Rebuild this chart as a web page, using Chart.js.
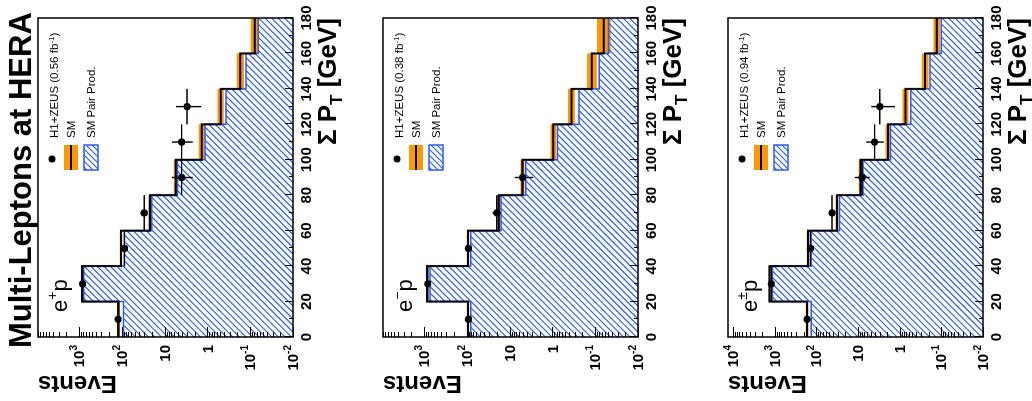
<!DOCTYPE html>
<html>
<head>
<meta charset="utf-8">
<script src="https://cdn.jsdelivr.net/npm/chart.js@4.4.1/dist/chart.umd.min.js"></script>
<style>
  html, body { margin: 0; padding: 0; background: #fff; overflow: hidden; width: 1032px; height: 401px; }
  /* the figure is drawn upright (401 x 1032) and turned a quarter to the left */
  #fig { position: absolute; left: 0; top: 0; width: 401px; height: 1032px; background: #fff;
         transform-origin: 0 0; transform: translate(0, 401px) rotate(-90deg); overflow: hidden; }
  #fig canvas { position: absolute; left: 0; }
</style>
</head>
<body>
<div id="fig">
  <canvas id="c0" width="401" height="345" style="top:0"></canvas>
  <canvas id="c1" width="401" height="345" style="top:345px"></canvas>
  <canvas id="c2" width="401" height="345" style="top:690px"></canvas>
</div>
<script>
// ---- data ----
const binEdges = [0, 20, 40, 60, 80, 100, 120, 140, 160, 180];
const yTickVals = [0.01, 0.1, 1, 10, 100, 1000, 10000];
const yTickExps = ['-2', '-1', '', '', '2', '3', '4'];
const yTickBase = ['10', '10', '1', '10', '10', '10', '10'];

// e+p
const smPos   = [119, 850, 105, 22, 5.5, 1.36, 0.49, 0.17, 0.078];
const pairPos = [91, 780, 87, 20, 5.0, 1.14, 0.37, 0.126, 0.065];
const bandPos = [0.08, 0.06, 0.07, 0.09, 0.12, 0.17, 0.18, 0.22, 0.25];
const dataPos   = [123, 830, 87, 30, 4, 4, 3];
const dataPosLo = [112, 800, 78, 25, 2.2, 2.2, 1.4];
const dataPosHi = [134, 860, 97, 36, 6.7, 6.7, 5.4];

// e-p
const smNeg   = [94, 850, 94, 18, 5.0, 0.95, 0.36, 0.12, 0.063];
const pairNeg = [81, 730, 81, 16, 4.2, 0.76, 0.24, 0.08, 0.049];
const bandNeg = [0.07, 0.06, 0.07, 0.09, 0.12, 0.17, 0.2, 0.3, 0.45];
const dataNeg   = [92, 820, 92, 20, 5];
const dataNegLo = [83, 790, 83, 16, 2.8];
const dataNegHi = [102, 850, 102, 25, 7.6];

// e+-p combined
const smAll   = [167, 1330, 158, 32, 8.7, 1.9, 0.72, 0.245, 0.129];
const pairAll = [132, 1130, 132, 28, 7.6, 1.66, 0.54, 0.186, 0.10];
const bandAll = [0.08, 0.06, 0.07, 0.09, 0.11, 0.15, 0.18, 0.2, 0.2];
const dataAll   = [167, 1210, 139, 42, 8, 4, 3];
const dataAllLo = [155, 1175, 128, 36, 5.2, 2.4, 1.3];
const dataAllHi = [180, 1245, 151, 49, 12, 6.3, 4.8];

const panels = [
  { id: 'c0', sm: smPos, pair: pairPos, band: bandPos, data: dataPos, lo: dataPosLo, hi: dataPosHi,
    yMax: 9100, lumi: '0.56', charge: '+', title: true },
  { id: 'c1', sm: smNeg, pair: pairNeg, band: bandNeg, data: dataNeg, lo: dataNegLo, hi: dataNegHi,
    yMax: 9100, lumi: '0.38', charge: '\u2212', title: false },
  { id: 'c2', sm: smAll, pair: pairAll, band: bandAll, data: dataAll, lo: dataAllLo, hi: dataAllHi,
    yMax: 13200, lumi: '0.94', charge: '\u00B1', title: false }
];

const FONT = '"Liberation Sans", Arial, Helvetica, sans-serif';
const ORANGE = '#ff9900';
const BLUE = '#2a5aff';
Chart.defaults.font.family = FONT;
Chart.defaults.color = '#000';

function hatch(ctx){
  const s = 6, c = document.createElement('canvas');
  c.width = s; c.height = s;
  const g = c.getContext('2d');
  g.strokeStyle = BLUE; g.lineWidth = 1.1;
  g.beginPath();
  g.moveTo(0, s); g.lineTo(s, 0);
  g.moveTo(-1, 1); g.lineTo(1, -1);
  g.moveTo(s - 1, s + 1); g.lineTo(s + 1, s - 1);
  g.stroke();
  return ctx.createPattern(c, 'repeat');
}

// parts: [text, size, dy, weight]
function rich(ctx, parts, x, y, align){
  let w = 0;
  parts.forEach(p => { ctx.font = (p[3] || '') + ' ' + p[1] + 'px ' + FONT; w += ctx.measureText(p[0]).width; });
  let cx = align === 'right' ? x - w : x;
  parts.forEach(p => {
    ctx.font = (p[3] || '') + ' ' + p[1] + 'px ' + FONT;
    ctx.fillText(p[0], cx, y + (p[2] || 0));
    cx += ctx.measureText(p[0]).width;
  });
}

const steps = vals => binEdges.map((e, i) => ({ x: e, y: vals[Math.min(i, vals.length - 1)] }));

function decor(p, pattern){
  return {
    id: 'decor',
    beforeDatasetDraw(chart, args){
      const { ctx, chartArea: a, scales: { x, y } } = chart;
      if (args.index === 2){
        // hatched area under the pair-production histogram
        ctx.save();
        ctx.beginPath();
        ctx.moveTo(x.getPixelForValue(0), a.bottom);
        p.pair.forEach((v, i) => {
          ctx.lineTo(x.getPixelForValue(binEdges[i]), y.getPixelForValue(v));
          ctx.lineTo(x.getPixelForValue(binEdges[i + 1]), y.getPixelForValue(v));
        });
        ctx.lineTo(x.getPixelForValue(180), a.bottom);
        ctx.closePath();
        ctx.clip();
        ctx.strokeStyle = BLUE; ctx.lineWidth = 1.2;
        const H = a.bottom - a.top;
        ctx.beginPath();
        for (let d = -H; d < a.right - a.left + H; d += 6.5){
          ctx.moveTo(a.left + d, a.bottom);
          ctx.lineTo(a.left + d + H, a.top);
        }
        ctx.stroke();
        ctx.restore();
      }
      if (args.index === 0){
        // error bars of the data points
        ctx.save();
        ctx.strokeStyle = '#000'; ctx.lineWidth = 1.4;
        p.data.forEach((v, i) => {
          const cx = x.getPixelForValue((binEdges[i] + binEdges[i + 1]) / 2);
          const cy = y.getPixelForValue(v);
          ctx.beginPath();
          ctx.moveTo(x.getPixelForValue(binEdges[i]), cy);
          ctx.lineTo(x.getPixelForValue(binEdges[i + 1]), cy);
          ctx.moveTo(cx, y.getPixelForValue(p.lo[i]));
          ctx.lineTo(cx, y.getPixelForValue(p.hi[i]));
          ctx.stroke();
        });
        ctx.restore();
      }
    },
    afterDraw(chart){
      const { ctx, chartArea: a, scales: { x, y } } = chart;
      ctx.save();
      // ticks pointing inwards
      ctx.strokeStyle = '#000'; ctx.lineWidth = 1;
      ctx.beginPath();
      for (let k = -2; k <= 4; k++){
        for (let m = 1; m <= 9; m++){
          const v = m * Math.pow(10, k);
          if (v < 0.01 || v > p.yMax) continue;
          const py = Math.round(y.getPixelForValue(v)) + 0.5;
          ctx.moveTo(a.left, py); ctx.lineTo(a.left + (m === 1 ? 10 : 5), py);
        }
      }
      for (let v = 0; v <= 180; v += 10){
        const px = Math.round(x.getPixelForValue(v)) + 0.5;
        ctx.moveTo(px, a.bottom); ctx.lineTo(px, a.bottom - (v % 20 === 0 ? 8 : 4));
      }
      ctx.stroke();
      // frame
      ctx.lineWidth = 1.5;
      ctx.strokeRect(a.left, a.top, a.right - a.left, a.bottom - a.top);

      // y tick labels with raised exponents
      ctx.fillStyle = '#000';
      ctx.textBaseline = 'middle';
      yTickVals.forEach((v, i) => {
        if (v > p.yMax) return;
        const py = y.getPixelForValue(v);
        rich(ctx, [[yTickBase[i], 15, 1, 'bold'], [yTickExps[i], 10, -5, 'bold']], a.left - 8, py, 'right');
      });

      // legend
      const L = a.left, T = a.top;
      ctx.beginPath(); ctx.arc(L + 178, T + 14, 3.5, 0, Math.PI * 2); ctx.fill();
      ctx.fillStyle = ORANGE;
      ctx.fillRect(L + 167, T + 26, 25, 14);
      ctx.strokeStyle = '#000'; ctx.lineWidth = 2;
      ctx.beginPath(); ctx.moveTo(L + 167, T + 33); ctx.lineTo(L + 192, T + 33); ctx.stroke();
      ctx.fillStyle = pattern;
      ctx.fillRect(L + 167, T + 46, 25, 14);
      ctx.strokeStyle = BLUE; ctx.lineWidth = 1.5;
      ctx.strokeRect(L + 167, T + 46, 25, 14);

      ctx.fillStyle = '#000';
      ctx.textBaseline = 'alphabetic';
      rich(ctx, [['H1+ZEUS (' + p.lumi + ' fb', 11.5], ['-1', 8, -4], [')', 11.5]], L + 199, T + 20);
      rich(ctx, [['SM', 11.5]], L + 199, T + 37);
      rich(ctx, [['SM Pair Prod.', 11.5]], L + 199, T + 57);

      // e p label
      rich(ctx, [['e', 22], [p.charge, 14, -10], ['p', 22]], 89, 67);

      // x-axis title
      rich(ctx, [['\u03A3 P', 26, 0, 'bold'], ['T', 17, 6, 'bold'], [' [GeV]', 26, 0, 'bold']], a.right, 336, 'right');

      if (p.title){
        rich(ctx, [['Multi-Leptons at HERA', 31, 0, 'bold']], 53, 31);
      }
      ctx.restore();
    }
  };
}

panels.forEach(p => {
  const ctx = document.getElementById(p.id).getContext('2d');
  const pattern = hatch(ctx);
  new Chart(ctx, {
    type: 'line',
    data: {
      datasets: [
        { label: 'H1+ZEUS', data: p.data.map((v, i) => ({ x: (binEdges[i] + binEdges[i + 1]) / 2, y: v })),
          showLine: false, pointRadius: 3.6, pointBackgroundColor: '#000', pointBorderWidth: 0, order: 0 },
        { label: 'SM', data: steps(p.sm), stepped: true, borderColor: '#000', borderWidth: 2,
          pointRadius: 0, fill: false, order: 1 },
        { label: 'SM Pair Prod.', data: steps(p.pair), stepped: true, borderColor: BLUE, borderWidth: 1.5,
          pointRadius: 0, fill: false, order: 2 },
        { label: 'band hi', data: steps(p.sm.map((v, i) => v * (1 + p.band[i]))), stepped: true,
          borderWidth: 0, borderColor: ORANGE, pointRadius: 0, fill: '+1', backgroundColor: ORANGE, order: 3 },
        { label: 'band lo', data: steps(p.sm.map((v, i) => v / (1 + p.band[i]))), stepped: true,
          borderWidth: 0, borderColor: ORANGE, pointRadius: 0, fill: false, order: 4 }
      ]
    },
    options: {
      responsive: false,
      animation: false,
      events: [],
      layout: { padding: { left: 0, right: 18, top: 38, bottom: 0 } },
      plugins: { legend: { display: false }, tooltip: { enabled: false } },
      scales: {
        x: {
          type: 'linear', min: 0, max: 180,
          grid: { display: false, drawTicks: false }, border: { display: false },
          ticks: { stepSize: 20, padding: 5, autoSkip: false, maxRotation: 0,
                   font: { size: 15, weight: 'bold' } },
          afterFit: s => { s.height = 52; }
        },
        y: {
          type: 'logarithmic', min: 0.01, max: p.yMax,
          grid: { display: false, drawTicks: false }, border: { display: false },
          afterBuildTicks: s => { s.ticks = yTickVals.filter(v => v <= p.yMax).map(v => ({ value: v })); },
          ticks: { display: false },
          title: { display: true, text: 'Events', align: 'end', font: { size: 24, weight: 'bold' },
                   padding: { top: 4, bottom: 0 } },
          afterFit: s => { s.width = 64; }
        }
      }
    },
    plugins: [decor(p, pattern)]
  });
});
</script>
</body>
</html>
